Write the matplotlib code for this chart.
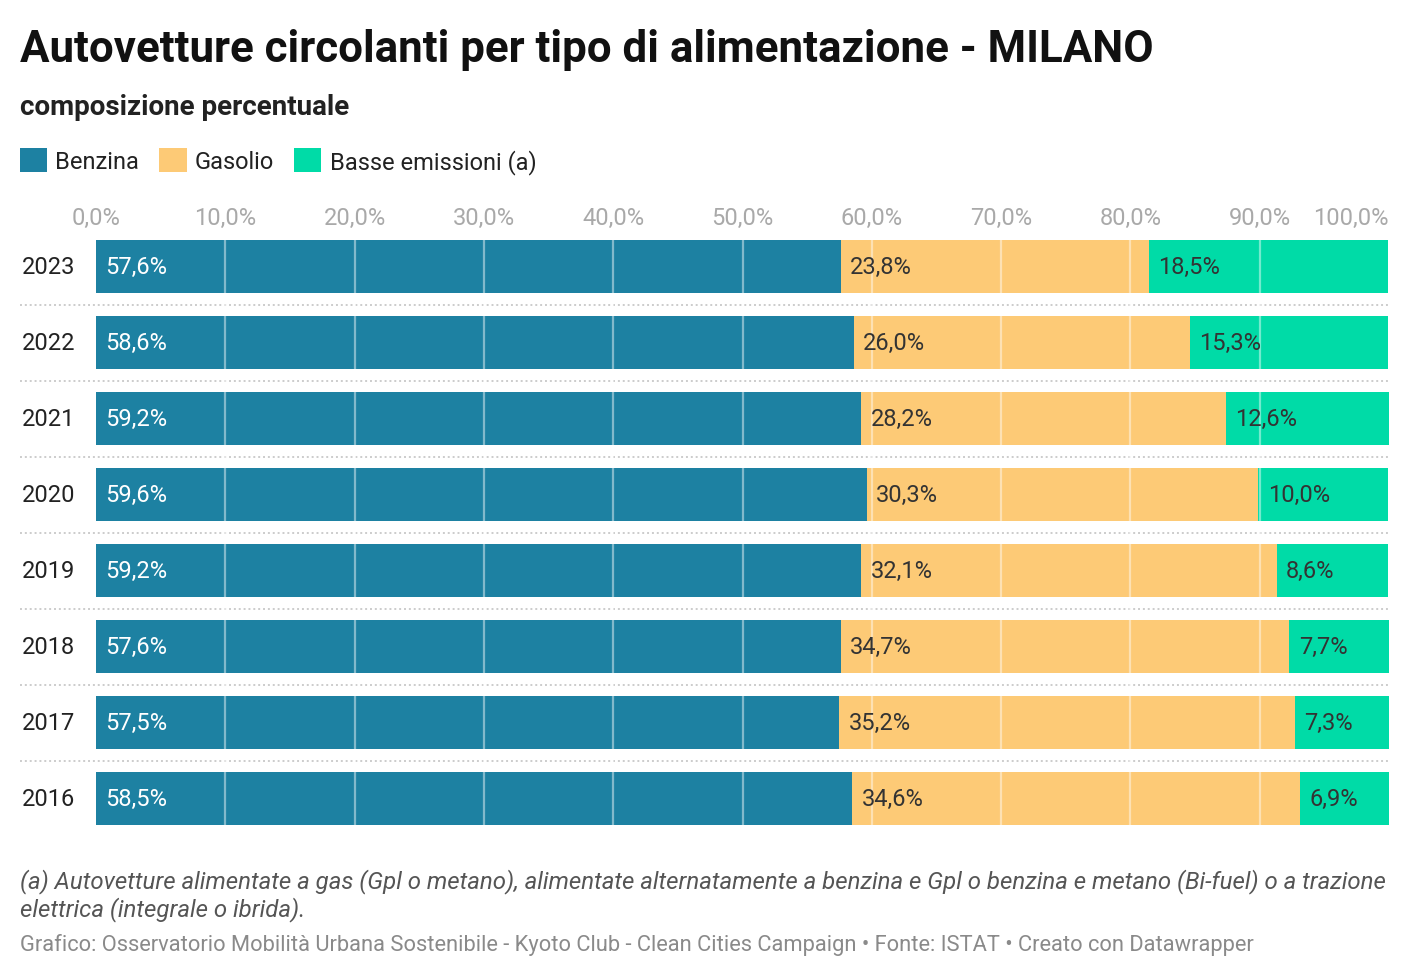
"""Autovetture circolanti per tipo di alimentazione - Milano (stacked bars)."""
import matplotlib
matplotlib.use("Agg")
import matplotlib.pyplot as plt
from matplotlib.patches import Patch

plt.rcParams["font.family"] = ["Roboto", "DejaVu Sans"]

years = ["2023", "2022", "2021", "2020", "2019", "2018", "2017", "2016"]
benzina = [57.6, 58.6, 59.2, 59.6, 59.2, 57.6, 57.5, 58.5]
gasolio = [23.8, 26.0, 28.2, 30.3, 32.1, 34.7, 35.2, 34.6]
basse = [18.5, 15.3, 12.6, 10.0, 8.6, 7.7, 7.3, 6.9]
series_names = ["Benzina", "Gasolio", "Basse emissioni (a)"]
ticks = [0, 10, 20, 30, 40, 50, 60, 70, 80, 90, 100]

colors = ["#1d81a2", "#fdca76", "#00dba7"]
label_colors = ["white", "#333333", "#333333"]

W, H = 1412, 978
fig = plt.figure(figsize=(W / 100, H / 100), dpi=100)

# axes placed in pixel terms: 0% at x=96, 100% at x=1389
left, right = 96, 1389
top, bottom = 229.5, 837.5
ax = fig.add_axes([left / W, 1 - bottom / H, (right - left) / W, (bottom - top) / H])

ypos = list(range(len(years)))
starts = [0.0] * len(years)
for vals, col, lcol in zip([benzina, gasolio, basse], colors, label_colors):
    ax.barh(ypos, vals, left=starts, height=0.70, color=col, zorder=1)
    for y, s, v in zip(ypos, starts, vals):
        ax.annotate(f"{v:.1f}%".replace(".", ","), xy=(s, y), xytext=(6.8, 0),
                    textcoords="offset points", ha="left", va="center",
                    fontsize=17, color=lcol, zorder=4)
    starts = [s + v for s, v in zip(starts, vals)]

ax.set_xlim(0, 100)
ax.set_ylim(len(years) - 0.5, -0.5)

# white gridlines over the bars
for t in ticks[1:-1]:
    ax.axvline(t, color="white", alpha=0.45, lw=1.6, zorder=3)

# dotted separators between rows
ytrans = ax.get_yaxis_transform()
for i in range(len(years) - 1):
    ax.plot([-0.0588, 1.0], [i + 0.5, i + 0.5], transform=ytrans, color="#cccccc",
            lw=1.4, ls=(0, (1, 1.5)), clip_on=False, zorder=0)

# year labels
for y, yr in zip(ypos, years):
    ax.text(-0.0573, y, yr, transform=ytrans, ha="left", va="center",
            fontsize=17, color="#222222")

ax.xaxis.tick_top()
ax.set_xticks(ticks)
ax.set_xticklabels([f"{t:.1f}%".replace(".", ",") for t in ticks], fontsize=17,
                   color="#a9a9a9")
ax.tick_params(axis="x", length=0, pad=0)
ax.get_xticklabels()[-1].set_ha("right")
ax.set_yticks([])
for sp in ax.spines.values():
    sp.set_visible(False)

fig.text(20 / W, 1 - 62 / H, "Autovetture circolanti per tipo di alimentazione - MILANO",
         fontsize=31.6, fontweight="bold", color="#111111", va="baseline")
fig.text(20 / W, 1 - 115 / H, "composizione percentuale", fontsize=20,
         fontweight="bold", color="#222222", va="baseline")

handles = [Patch(facecolor=c, edgecolor="none") for c in colors]
fig.legend(handles, series_names, loc="center left", bbox_to_anchor=(20 / W, 1 - 162 / H),
           ncol=3, frameon=False, fontsize=17, handlelength=1.15, handleheight=1.15,
           handletextpad=0.35, columnspacing=0.85, borderaxespad=0, borderpad=0,
           labelcolor="#222222")

fig.text(20 / W, 1 - 888 / H,
         "(a) Autovetture alimentate a gas (Gpl o metano), alimentate alternatamente a benzina "
         "e Gpl o benzina e metano (Bi-fuel) o a trazione",
         fontsize=17.3, style="italic", color="#555555", va="baseline")
fig.text(20 / W, 1 - 916 / H, "elettrica (integrale o ibrida).",
         fontsize=17.3, style="italic", color="#555555", va="baseline")
fig.text(20 / W, 1 - 951 / H,
         "Grafico: Osservatorio Mobilità Urbana Sostenibile - Kyoto Club - Clean Cities "
         "Campaign • Fonte: ISTAT • Creato con Datawrapper",
         fontsize=15.75, color="#8a8a8a", va="baseline")

fig.savefig("out.png", dpi=100)
